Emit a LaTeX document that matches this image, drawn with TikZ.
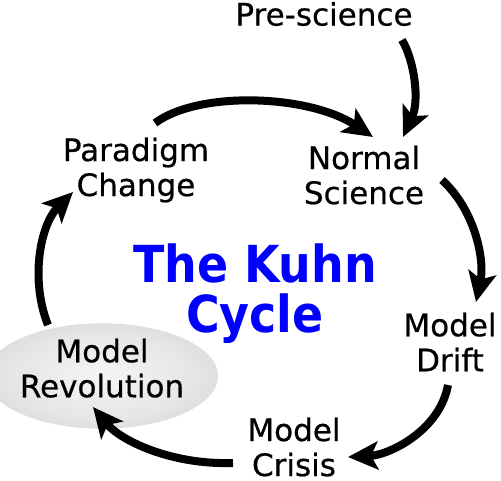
\documentclass[tikz,border=0pt]{standalone}
\usepackage{fontspec}
\setmainfont{DejaVu Sans}
\newfontfamily\lblfont[FakeBold=0.5]{DejaVu Sans}
\newfontfamily\titlefont[FakeStretch=0.9]{DejaVu Sans}
\usetikzlibrary{arrows.meta,shapes.geometric}
\definecolor{titleblue}{RGB}{0,0,255}
\pgfdeclareradialshading{revshade}{\pgfpoint{0bp}{0bp}}{color(0bp)=(white!96!black); color(20bp)=(white!90!black); color(50bp)=(white!74!black)}
\tikzset{
  lbl/.style={align=center, inner sep=0pt, font=\lblfont\fontsize{31}{35}\selectfont},
  ttl/.style={align=center, inner sep=0pt, text=titleblue, font=\titlefont\bfseries\fontsize{51}{50}\selectfont},
  revbox/.style={ellipse, shading=revshade, inner sep=0pt, minimum width=200pt, minimum height=102pt, align=center, font=\lblfont\fontsize{31}{35}\selectfont},
  flow/.style={line width=8pt, -{Stealth[length=30pt,width=28pt,inset=7pt]}}
}
\begin{document}
\begin{tikzpicture}[x=1pt,y=-1pt]
\useasboundingbox (0,0) rectangle (501,480);
\node[lbl] (pre) at (324,14) {Pre-science};
\node[lbl] (normal) at (364,175) {Normal\\Science};
\node[lbl] (paradigm) at (136,170) {Paradigm\\Change};
\node[lbl] (drift) at (450,342) {Model\\Drift};
\node[lbl] (crisis) at (294,447) {Model\\Crisis};
\node[revbox] (revol) at (102,376) {Model\\Revolution\rule[-16pt]{0pt}{0pt}};
\node[ttl] (title) at (255,294) {The Kuhn\\Cycle};

\draw[flow] ([shift={(78,26)}]pre.center) .. controls +(12,20) and +(17,-37) .. ([shift={(39,-38)}]normal.center);
\draw[flow] ([shift={(19,-47)}]paradigm.center) .. controls +(45,-33) and +(-63,-42) .. ([shift={(9,-38)}]normal.center);
\draw[flow] ([shift={(78,5)}]normal.center) .. controls +(33,30) and +(9,-42) .. ([shift={(26,-40)}]drift.center);
\draw[flow] ([shift={(-2,43)}]drift.center) .. controls +(-8,45) and +(42,-2) .. ([shift={(54,10)}]crisis.center);
\draw[flow] ([shift={(-61,16)}]crisis.center) .. controls +(-63,2) and +(27,33) .. ([shift={(-9,31)}]revol.center);
\draw[flow] ([shift={(-54,-51)}]revol.center) .. controls +(-18,-45) and +(-33,33) .. ([shift={(-63,22)}]paradigm.center);
\end{tikzpicture}
\end{document}
